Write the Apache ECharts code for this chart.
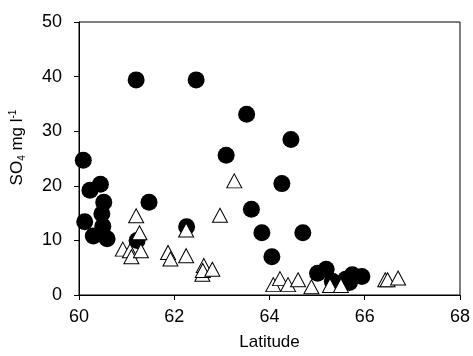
<!DOCTYPE html>
<html><head><meta charset="utf-8">
<script src="https://cdn.jsdelivr.net/npm/echarts@6/dist/echarts.min.js"></script>
<style>html,body{margin:0;padding:0;background:#fff}#c{width:473px;height:356px}</style>
</head><body><div id="c"></div>
<script>
var xTicks = [60, 62, 64, 66, 68];
var yTicks = [0, 10, 20, 30, 40, 50];
// filled circles: [latitude, SO4]
var circleLat = [60.09, 61.2, 62.46, 63.09, 60.23, 60.45, 60.52, 60.48, 60.12, 60.5, 60.3, 60.59, 61.47, 62.26, 61.22, 64.26, 63.62, 63.84, 64.7, 64.05, 63.52, 64.45, 65.01, 65.19, 65.32, 65.6, 65.68, 65.74, 65.94];
var circleVal = [24.7, 39.4, 39.4, 25.6, 19.2, 20.3, 17.0, 14.9, 13.4, 12.6, 10.8, 10.3, 17.0, 12.5, 10.0, 20.4, 15.7, 11.4, 11.4, 7.0, 33.1, 28.5, 4.0, 4.7, 2.5, 2.9, 2.3, 3.7, 3.4];
// open triangles: [latitude, SO4]
var triLat = [61.2, 61.27, 60.92, 61.07, 61.1, 61.3, 61.87, 61.92, 62.25, 62.25, 62.62, 62.59, 62.6, 62.8, 62.96, 63.26, 64.08, 64.22, 64.39, 64.6, 64.88, 65.27, 65.5, 66.43, 66.48, 66.7];
var triVal = [14.5, 11.4, 8.4, 8.1, 7.0, 8.1, 7.8, 6.6, 11.9, 7.2, 5.4, 3.8, 4.5, 4.7, 14.6, 20.9, 1.9, 3.0, 1.9, 2.8, 1.5, 1.75, 1.75, 2.8, 2.8, 3.1];

function pairs(a, b) { return a.map(function (v, i) { return [v, b[i]]; }); }
var FF = '"Liberation Sans", Arial, sans-serif';
var chart = echarts.init(document.getElementById('c'), null, {renderer: 'canvas'});
chart.setOption({
  animation: false,
  backgroundColor: '#fff',
  grid: {left: 79, top: 22, width: 387, height: 277, show: true, borderColor: '#000', borderWidth: 1, containLabel: false},
  xAxis: {
    type: 'value', min: 60, max: 68, interval: 2,
    name: 'Latitude', nameLocation: 'middle', nameGap: 39,
    nameTextStyle: {fontFamily: FF, fontSize: 17, color: '#000'},
    axisLine: {show: true, lineStyle: {color: '#000', width: 1}},
    axisTick: {show: true, length: 5, lineStyle: {color: '#000'}},
    axisLabel: {fontFamily: FF, fontSize: 18, color: '#000', margin: 13,
      formatter: function (v) { return xTicks.indexOf(v) >= 0 ? String(v) : ''; }},
    splitLine: {show: false}
  },
  yAxis: {
    type: 'value', min: 0, max: 50, interval: 10,
    name: '{m|SO}{sub|4}{m| mg l}{sup|-1}', nameLocation: 'middle', nameGap: 52, nameRotate: 90,
    nameTextStyle: {fontFamily: FF, fontSize: 17, color: '#000', padding: [0, 0, 0, 22],
      rich: {
        m: {fontFamily: FF, fontSize: 17, color: '#000'},
        sub: {fontFamily: FF, fontSize: 10, color: '#000', padding: [9, 0, 0, 0]},
        sup: {fontFamily: FF, fontSize: 10, color: '#000', padding: [0, 0, 9, 0]}
      }},
    axisLine: {show: true, lineStyle: {color: '#000', width: 1}},
    axisTick: {show: true, length: 5, lineStyle: {color: '#000'}},
    axisLabel: {fontFamily: FF, fontSize: 18, color: '#000', margin: 17,
      formatter: function (v) { return yTicks.indexOf(v) >= 0 ? String(v) : ''; }},
    splitLine: {show: false}
  },
  series: [
    {type: 'scatter', data: pairs(circleLat, circleVal), symbol: 'circle', symbolSize: 17,
     itemStyle: {color: '#000', opacity: 1}, z: 2},
    {type: 'scatter', data: pairs(triLat, triVal), symbol: 'triangle', symbolSize: [15, 14],
     itemStyle: {color: '#fff', borderColor: '#000', borderWidth: 1, opacity: 1}, z: 3}
  ]
});
</script></body></html>
